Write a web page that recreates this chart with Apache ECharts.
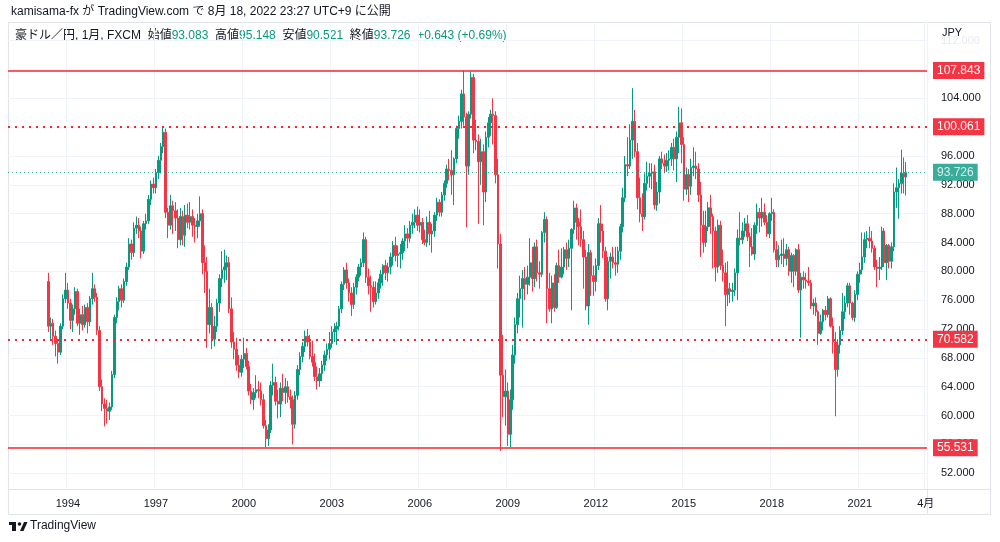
<!DOCTYPE html>
<html>
<head>
<meta charset="utf-8">
<title>豪ドル／円 1月 FXCM</title>
<script src="https://cdn.jsdelivr.net/npm/echarts@6/dist/echarts.min.js"></script>
<style>
  html, body { margin: 0; padding: 0; background: #fff; }
  #main { width: 1000px; height: 542px; }
</style>
</head>
<body>
<div id="main"></div>
<script>
// 月足 [始値, 高値, 安値, 終値]
const y1993 = [ // 5月から
  [78.6, 79.8, 71.6, 72.4], [72.4, 73.6, 70.6, 72.8], [72.8, 73.4, 69.8, 71.0], [71.0, 71.8, 68.2, 70.0],
  [70.0, 70.6, 67.2, 68.8], [68.8, 72.8, 68.4, 72.4], [72.4, 76.8, 72.0, 76.2], [76.2, 79.8, 75.6, 77.4]
];
const y1994 = [
  [77.4, 78.4, 74.8, 75.6], [75.6, 76.2, 72.0, 73.2], [73.2, 75.4, 71.6, 74.8], [74.8, 77.8, 74.0, 77.2],
  [77.2, 77.6, 72.4, 72.8], [72.8, 74.8, 71.2, 74.0], [74.0, 75.2, 71.8, 72.6], [72.6, 75.4, 72.2, 75.0],
  [75.0, 75.6, 71.4, 73.0], [73.0, 76.6, 72.4, 76.2], [76.2, 79.8, 75.4, 77.6], [77.6, 78.2, 75.8, 76.4]
];
const y1995 = [
  [76.4, 77.0, 71.2, 71.8], [71.8, 72.4, 63.4, 64.0], [64.0, 65.0, 60.6, 61.6], [61.6, 62.4, 58.5, 61.0],
  [61.0, 62.2, 58.9, 60.6], [60.6, 61.8, 59.4, 61.2], [61.2, 66.2, 60.8, 65.7], [65.7, 74.0, 65.2, 73.6],
  [73.6, 76.4, 72.8, 75.8], [75.8, 78.0, 74.6, 77.6], [77.6, 78.2, 75.0, 76.0], [76.0, 79.0, 75.6, 78.6]
];
const y1996 = [
  [78.6, 81.2, 78.0, 80.6], [80.6, 84.6, 80.2, 83.8], [83.8, 84.4, 81.6, 82.6], [82.6, 86.8, 82.0, 86.0],
  [86.0, 87.6, 85.2, 86.4], [86.4, 87.4, 84.6, 85.6], [85.6, 86.2, 81.8, 82.8], [82.8, 87.0, 82.4, 86.6],
  [86.6, 88.0, 85.8, 87.0], [87.0, 90.6, 86.6, 90.0], [90.0, 92.6, 89.2, 92.1], [92.1, 93.0, 90.8, 91.6]
];
const y1997 = [
  [91.6, 94.2, 90.8, 93.7], [93.7, 96.0, 92.8, 95.4], [95.4, 97.8, 93.6, 97.3], [97.3, 100.1, 96.4, 99.3],
  [99.3, 99.8, 87.4, 88.2], [88.2, 88.8, 84.6, 86.4], [86.4, 90.6, 85.8, 89.1], [89.1, 89.8, 85.2, 88.4],
  [88.4, 89.6, 85.6, 87.4], [87.4, 88.6, 83.2, 84.4], [84.4, 88.8, 83.6, 87.6], [87.6, 88.4, 83.6, 85.0]
];
const y1998 = [
  [85.0, 89.2, 83.4, 87.8], [87.8, 89.4, 86.0, 86.8], [86.8, 89.6, 85.8, 87.6], [87.6, 88.6, 84.8, 86.4],
  [86.4, 87.4, 84.0, 86.2], [86.2, 88.0, 84.6, 87.0], [87.0, 90.4, 86.2, 88.0], [88.0, 88.6, 79.6, 81.2],
  [81.2, 83.6, 77.0, 80.0], [80.0, 82.0, 69.4, 72.6], [72.6, 77.6, 71.4, 75.0], [75.0, 75.6, 69.2, 70.6]
];
const y1999 = [
  [70.6, 73.8, 69.6, 72.4], [72.4, 76.2, 71.6, 75.6], [75.6, 79.6, 74.4, 79.0], [79.0, 82.8, 77.8, 80.2],
  [80.2, 83.0, 78.4, 80.6], [80.6, 82.2, 78.8, 81.2], [81.2, 82.0, 74.2, 74.8], [74.8, 76.4, 69.4, 70.2],
  [70.2, 71.6, 67.8, 69.2], [69.2, 70.8, 66.2, 67.0], [67.0, 68.4, 65.2, 66.0], [66.0, 68.4, 65.4, 67.8]
];
const y2000 = [
  [67.8, 70.8, 66.6, 68.6], [68.6, 69.4, 66.4, 66.8], [66.8, 67.6, 62.8, 63.4], [63.4, 64.4, 61.6, 62.2],
  [62.2, 63.8, 60.8, 63.2], [63.2, 65.6, 62.4, 63.6], [63.6, 64.8, 62.4, 63.4], [63.4, 64.6, 61.4, 62.2],
  [62.2, 63.0, 58.2, 58.6], [58.6, 59.4, 55.6, 56.8], [56.8, 58.8, 55.8, 58.0], [58.0, 64.8, 57.6, 64.2]
];
const y2001 = [
  [64.2, 67.2, 62.8, 64.6], [64.6, 65.4, 61.4, 62.0], [62.0, 63.6, 59.6, 61.6], [61.6, 64.6, 59.8, 63.8],
  [63.8, 65.8, 62.0, 63.2], [63.2, 65.2, 61.6, 64.0], [64.0, 64.8, 61.8, 62.6], [62.6, 63.6, 61.0, 62.2],
  [62.2, 62.8, 56.0, 58.8], [58.8, 63.4, 58.2, 62.8], [62.8, 67.0, 62.2, 66.4], [66.4, 68.8, 65.6, 68.2]
];
const y2002 = [
  [68.2, 70.2, 67.4, 69.6], [69.6, 71.8, 68.8, 71.0], [71.0, 72.0, 69.6, 70.2], [70.2, 71.2, 67.8, 68.2],
  [68.2, 70.4, 66.8, 67.4], [67.4, 68.6, 64.8, 65.4], [65.4, 66.8, 63.6, 64.8], [64.8, 66.6, 64.0, 65.8],
  [65.8, 67.6, 64.8, 67.0], [67.0, 69.0, 66.2, 68.4], [68.4, 70.0, 67.6, 69.2], [69.2, 71.6, 67.8, 70.0]
];
const y2003 = [
  [70.0, 72.4, 69.4, 71.6], [71.6, 72.8, 70.2, 72.0], [72.0, 73.0, 69.8, 72.4], [72.4, 75.2, 71.8, 74.8],
  [74.8, 78.6, 74.2, 78.2], [78.2, 80.6, 77.4, 80.2], [80.2, 81.2, 77.6, 78.4], [78.4, 79.0, 75.8, 77.0],
  [77.0, 77.8, 73.8, 75.4], [75.4, 78.4, 74.8, 77.8], [77.8, 79.6, 76.8, 79.2], [79.2, 81.0, 78.6, 80.6]
];
const y2004 = [
  [80.6, 81.8, 79.4, 81.2], [81.2, 85.4, 80.6, 84.4], [84.4, 84.8, 78.4, 79.2], [79.2, 80.4, 76.8, 78.0],
  [78.0, 79.4, 74.4, 77.8], [77.8, 78.6, 75.0, 75.8], [75.8, 78.6, 75.4, 77.0], [77.0, 79.0, 76.2, 78.4],
  [78.4, 80.2, 77.6, 79.6], [79.6, 81.0, 78.0, 80.8], [80.8, 81.6, 78.8, 79.8], [79.8, 81.2, 78.6, 80.6]
];
const y2005 = [
  [80.6, 82.6, 79.6, 82.0], [82.0, 84.2, 80.8, 83.6], [83.6, 84.8, 81.4, 82.2], [82.2, 83.6, 80.6, 82.4],
  [82.4, 83.8, 80.4, 82.6], [82.6, 84.6, 81.6, 84.2], [84.2, 86.4, 82.8, 85.2], [85.2, 86.0, 83.2, 84.6],
  [84.6, 87.0, 84.0, 86.4], [86.4, 88.0, 85.2, 86.8], [86.8, 88.6, 86.0, 87.8], [87.8, 89.0, 85.6, 86.4]
];
const y2006 = [
  [86.4, 88.6, 85.4, 86.8], [86.8, 87.4, 83.8, 84.4], [84.4, 85.8, 83.6, 84.0], [84.0, 87.6, 83.4, 86.8],
  [86.8, 88.4, 83.6, 85.2], [85.2, 86.6, 82.6, 85.6], [85.6, 88.2, 84.8, 87.8], [87.8, 90.2, 87.0, 89.6],
  [89.6, 90.0, 87.6, 88.2], [88.2, 91.0, 87.6, 90.6], [90.6, 92.6, 89.8, 92.2], [92.2, 94.8, 91.6, 94.2]
];
const y2007 = [
  [94.2, 95.6, 92.6, 94.0], [94.0, 96.8, 90.6, 93.4], [93.4, 95.8, 89.2, 95.6], [95.6, 100.2, 95.0, 99.8],
  [99.8, 101.6, 98.4, 100.8], [100.8, 105.2, 99.8, 104.6], [104.6, 107.843, 100.2, 101.4], [101.4, 102.0, 86.1, 94.6],
  [94.6, 102.2, 93.4, 101.8], [101.8, 107.7, 101.2, 106.9], [106.9, 107.4, 96.4, 98.2], [98.2, 101.0, 96.8, 98.0]
];
const y2008 = [
  [98.0, 99.0, 86.6, 95.2], [95.2, 98.4, 92.0, 96.6], [96.6, 97.6, 86.4, 91.0], [91.0, 99.4, 89.6, 98.6],
  [98.6, 101.4, 97.2, 100.6], [100.6, 102.4, 98.8, 101.8], [101.8, 104.0, 97.6, 101.6], [101.6, 102.2, 92.2, 93.4],
  [93.4, 95.6, 80.4, 83.8], [83.8, 85.2, 55.1, 65.6], [65.6, 71.2, 59.8, 62.6], [62.6, 66.4, 58.6, 63.4]
];
const y2009 = [
  [63.4, 64.6, 55.8, 57.4], [57.4, 63.6, 55.6, 62.2], [62.2, 69.8, 60.8, 68.4], [68.4, 73.6, 67.2, 72.6],
  [72.6, 77.0, 71.4, 76.2], [76.2, 79.4, 73.6, 77.6], [77.6, 80.2, 72.2, 79.0], [79.0, 80.6, 76.0, 78.2],
  [78.2, 80.8, 76.8, 79.2], [79.2, 84.6, 78.0, 81.2], [81.2, 83.4, 77.2, 79.0], [79.0, 84.0, 77.8, 83.4]
];
const y2010 = [
  [83.4, 84.4, 78.6, 79.8], [79.8, 81.4, 77.6, 79.6], [79.6, 85.6, 79.2, 85.4], [85.4, 88.2, 84.0, 87.2],
  [87.2, 87.6, 72.8, 77.6], [77.6, 79.8, 74.4, 74.8], [74.8, 79.4, 72.8, 78.4], [78.4, 79.6, 74.4, 75.0],
  [75.0, 81.2, 74.8, 80.8], [80.8, 83.0, 78.4, 79.2], [79.2, 83.2, 79.0, 80.6], [80.6, 83.4, 79.6, 83.0]
];
const y2011 = [
  [83.0, 84.0, 80.2, 81.8], [81.8, 84.4, 80.6, 83.2], [83.2, 86.0, 74.6, 85.8], [85.8, 89.8, 85.2, 88.8],
  [88.8, 89.4, 84.4, 86.8], [86.8, 87.4, 83.6, 86.2], [86.2, 88.6, 83.4, 84.4], [84.4, 85.6, 77.6, 82.0],
  [82.0, 83.0, 74.6, 75.2], [75.2, 83.8, 72.6, 82.6], [82.6, 83.0, 76.6, 79.4], [79.4, 80.8, 76.6, 78.6]
];
const y2012 = [
  [78.6, 81.8, 77.2, 80.8], [80.8, 87.4, 80.2, 86.6], [86.6, 89.2, 84.0, 85.6], [85.6, 86.6, 81.8, 82.8],
  [82.8, 83.4, 75.8, 76.2], [76.2, 82.0, 74.6, 81.4], [81.4, 82.6, 79.0, 82.0], [82.0, 83.4, 80.4, 81.2],
  [81.2, 83.4, 79.4, 81.0], [81.0, 83.4, 79.8, 82.8], [82.8, 86.6, 81.6, 86.2], [86.2, 91.6, 85.4, 90.2]
];
const y2013 = [
  [90.2, 96.0, 89.6, 94.8], [94.8, 98.6, 93.2, 94.6], [94.6, 100.4, 94.2, 98.2], [98.2, 105.4, 95.6, 100.8],
  [100.8, 102.4, 95.8, 96.6], [96.6, 97.8, 88.6, 90.2], [90.2, 93.0, 86.8, 88.0], [88.0, 90.8, 85.6, 87.6],
  [87.6, 93.6, 87.2, 92.2], [92.2, 95.2, 91.2, 93.2], [93.2, 95.0, 91.6, 93.6], [93.6, 95.0, 91.4, 93.8]
];
const y2014 = [
  [93.8, 94.8, 88.6, 89.2], [89.2, 92.4, 88.4, 91.0], [91.0, 96.0, 89.4, 95.6], [95.6, 96.6, 94.2, 95.0],
  [95.0, 96.2, 93.6, 94.6], [94.6, 96.4, 93.8, 95.4], [95.4, 96.8, 94.0, 95.6], [95.6, 97.8, 94.6, 97.2],
  [97.2, 98.4, 94.0, 95.6], [95.6, 99.4, 92.4, 98.6], [98.6, 102.8, 96.4, 100.6], [100.6, 102.6, 95.0, 97.6]
];
const y2015 = [
  [97.6, 98.6, 89.8, 91.4], [91.4, 94.4, 90.6, 93.4], [93.4, 94.2, 89.6, 91.8], [91.8, 95.6, 90.6, 94.4],
  [94.4, 97.2, 93.2, 94.6], [94.6, 96.6, 92.8, 94.2], [94.2, 95.0, 89.6, 90.6], [90.6, 92.4, 82.0, 86.4],
  [86.4, 88.4, 82.6, 84.0], [84.0, 88.4, 83.4, 86.2], [86.2, 89.6, 85.6, 88.8], [88.8, 90.6, 85.2, 87.6]
];
const y2016 = [
  [87.6, 88.0, 80.4, 85.6], [85.6, 86.2, 78.6, 80.6], [80.6, 87.2, 79.8, 86.4], [86.4, 87.0, 80.2, 80.8],
  [80.8, 83.0, 78.6, 79.8], [79.8, 81.2, 72.4, 76.8], [76.8, 81.4, 75.2, 77.6], [77.6, 78.4, 75.6, 77.2],
  [77.2, 78.4, 75.8, 77.4], [77.4, 80.4, 76.6, 79.8], [79.8, 85.8, 76.0, 84.6], [84.6, 88.2, 83.6, 84.4]
];
const y2017 = [
  [84.4, 86.8, 83.8, 85.6], [85.6, 87.4, 84.8, 86.6], [86.6, 87.8, 84.2, 84.8], [84.8, 85.4, 80.6, 83.4],
  [83.4, 86.0, 82.2, 82.4], [82.4, 86.8, 81.6, 86.4], [86.4, 89.4, 85.2, 88.2], [88.2, 88.8, 85.4, 87.4],
  [87.4, 90.2, 86.2, 88.2], [88.2, 89.4, 86.4, 86.8], [86.8, 87.8, 84.8, 85.2], [85.2, 88.2, 84.6, 88.0]
];
const y2018 = [
  [88.0, 90.2, 87.0, 88.2], [88.2, 88.6, 82.6, 83.0], [83.0, 84.2, 80.6, 81.6], [81.6, 83.6, 80.6, 82.2],
  [82.2, 84.4, 81.0, 82.4], [82.4, 84.6, 80.6, 81.8], [81.8, 83.8, 80.8, 83.0], [83.0, 83.4, 79.4, 80.0],
  [80.0, 82.6, 78.4, 82.2], [82.2, 82.4, 77.8, 80.0], [80.0, 83.2, 79.4, 83.0], [83.0, 83.8, 77.0, 77.4]
];
const y2019 = [
  [77.4, 79.8, 70.8, 79.2], [79.2, 80.0, 77.6, 78.8], [78.8, 79.8, 77.6, 78.6], [78.6, 80.6, 78.0, 78.4],
  [78.4, 78.8, 74.8, 75.2], [75.2, 76.2, 74.0, 75.6], [75.6, 76.4, 73.8, 74.4], [74.4, 74.6, 69.8, 71.4],
  [71.4, 74.0, 71.2, 73.0], [73.0, 74.8, 71.8, 74.6], [74.6, 75.2, 73.2, 74.0], [74.0, 76.6, 73.6, 76.2]
];
const y2020 = [
  [76.2, 76.4, 72.2, 72.4], [72.4, 73.6, 68.6, 70.2], [70.2, 71.6, 59.9, 66.4], [66.4, 70.6, 65.4, 69.8],
  [69.8, 72.4, 68.6, 71.8], [71.8, 77.0, 71.2, 74.4], [74.4, 76.6, 73.4, 75.6], [75.6, 78.4, 75.0, 78.0],
  [78.0, 78.4, 74.0, 75.6], [75.6, 75.8, 73.2, 73.6], [73.6, 77.4, 73.0, 76.8], [76.8, 80.0, 76.0, 79.6]
];
const y2021 = [
  [79.6, 81.2, 78.4, 80.2], [80.2, 85.4, 79.6, 82.0], [82.0, 85.4, 81.2, 84.4], [84.4, 85.6, 83.2, 84.6],
  [84.6, 86.2, 83.2, 84.2], [84.2, 85.6, 82.6, 83.2], [83.2, 83.6, 80.2, 80.6], [80.6, 81.6, 77.8, 80.4],
  [80.4, 82.0, 78.8, 80.6], [80.6, 86.2, 80.2, 85.6], [85.6, 86.0, 80.6, 81.2], [81.2, 83.8, 78.8, 83.6]
];
const y2022 = [ // 8月まで
  [83.6, 83.8, 80.4, 81.4], [81.4, 84.0, 80.4, 83.4], [83.4, 92.2, 82.8, 91.0], [91.0, 94.4, 88.8, 91.6],
  [91.6, 92.8, 87.3, 92.2], [92.2, 96.88, 90.8, 93.6], [93.6, 95.8, 90.8, 93.083], [93.083, 95.148, 90.521, 93.726]
];

const yearTicks = ['1994', '1997', '2000', '2003', '2006', '2009', '2012', '2015', '2018', '2021'];
const priceTicks = [52, 56, 60, 64, 68, 72, 76, 80, 84, 88, 92, 96, 100, 104, 108, 112];
const solidLevels = [107.843, 55.531];
const dottedLevels = [100.061, 70.582];
const lastPrice = 93.726;

const upColor = '#089981';
const downColor = '#f23645';
const lineRed = '#f7252f';
const textColor = '#131722';
const gridColor = '#f0f3fa';

// 1992年1月〜2023年4月 の月カテゴリ
const categories = [];
for (let y = 1992; y <= 2023; y++) {
  for (let m = 1; m <= 12; m++) {
    if (y === 2023 && m > 4) break;
    categories.push(y + '-' + String(m).padStart(2, '0'));
  }
}
const lastCat = categories[categories.length - 1];

const candles = [].concat(y1993, y1994, y1995, y1996, y1997, y1998, y1999, y2000, y2001, y2002,
  y2003, y2004, y2005, y2006, y2007, y2008, y2009, y2010, y2011, y2012, y2013, y2014, y2015,
  y2016, y2017, y2018, y2019, y2020, y2021, y2022);
const start = categories.indexOf('1993-05');
const seriesData = categories.map((c, i) => {
  const k = i - start;
  if (k < 0 || k >= candles.length) return '-';
  const d = candles[k];
  return [d[0], d[3], d[2], d[1]]; // open, close, low, high
});

const labelled = new Set(yearTicks.map(y => y + '-01').concat([lastCat]));
const showTick = (idx, val) => labelled.has(val);

const font = "'Liberation Sans', 'Noto Sans CJK JP', sans-serif";

function levelLine(v, color, type, bg) {
  return {
    yAxis: v,
    lineStyle: { color: color, type: type, width: type === 'solid' ? 1.5 : 2 },
    label: {
      show: true, position: 'end', distance: 6,
      formatter: () => v.toFixed(3),
      color: '#fff', backgroundColor: bg, padding: [3, 4, 2, 4],
      fontSize: 12, fontFamily: font
    }
  };
}

const markLines = []
  .concat(solidLevels.map(v => levelLine(v, lineRed, 'solid', downColor)))
  .concat(dottedLevels.map(v => levelLine(v, lineRed, [2, 5], downColor)));
const lastLine = levelLine(lastPrice, upColor, [1, 3], upColor);
lastLine.lineStyle.width = 1;
lastLine.lineStyle.opacity = 0.8;
markLines.push(lastLine);

let myChart = echarts.init(document.getElementById('main'), null, { renderer: 'canvas' });

let option = {
  animation: false,
  backgroundColor: '#fff',
  grid: { left: 8, right: 73, top: 22, bottom: 53 },
  xAxis: {
    type: 'category',
    data: categories,
    boundaryGap: true,
    axisLine: { show: false },
    axisTick: { show: false },
    axisLabel: {
      interval: showTick,
      formatter: (val) => val === lastCat ? '4月' : val.slice(0, 4),
      color: textColor, fontSize: 11, fontFamily: font, margin: 9
    },
    splitLine: { show: true, interval: showTick, lineStyle: { color: gridColor, width: 1 } }
  },
  yAxis: {
    type: 'value',
    position: 'right',
    min: 49.82,
    max: 114.58,
    axisLine: { show: false },
    axisTick: { show: false, customValues: priceTicks },
    axisLabel: {
      customValues: priceTicks,
      formatter: (v) => v === 112 ? '{f|' + v.toFixed(3) + '}' : v.toFixed(3),
      rich: { f: { color: '#e8eaef', fontSize: 11, fontFamily: font } },
      color: textColor, fontSize: 11, fontFamily: font, margin: 14
    },
    splitLine: { show: true, lineStyle: { color: gridColor, width: 1 } }
  },
  series: [{
    type: 'candlestick',
    data: seriesData,
    barWidth: '82%',
    itemStyle: {
      color: upColor, color0: downColor,
      borderColor: upColor, borderColor0: downColor,
      borderWidth: 1
    },
    markLine: {
      silent: true,
      symbol: ['none', 'none'],
      animation: false,
      data: markLines
    }
  }],
  graphic: [
    // 枠線
    { type: 'rect', silent: true, shape: { x: 8.5, y: 22.5, width: 982, height: 492 },
      style: { fill: 'none', stroke: '#e0e3eb', lineWidth: 1 } },
    { type: 'line', silent: true, shape: { x1: 927.5, y1: 22, x2: 927.5, y2: 515 },
      style: { stroke: '#e0e3eb', lineWidth: 1 } },
    { type: 'line', silent: true, shape: { x1: 8, y1: 489.5, x2: 991, y2: 489.5 },
      style: { stroke: '#e0e3eb', lineWidth: 1 } },
    // ヘッダー
    { type: 'text', left: 11, top: 6, silent: true,
      style: { text: 'kamisama-fx が TradingView.com で 8月 18, 2022 23:27 UTC+9 に公開',
        fill: textColor, font: '12px ' + font } },
    { type: 'text', left: 15, top: 30, silent: true,
      style: {
        text: '{n|豪ドル／円, 1月, FXCM}  {n|始値}{v|93.083}  {n|高値}{v|95.148}  {n|安値}{v|90.521}  {n|終値}{v|93.726}  {v|+0.643 (+0.69%)}',
        rich: {
          n: { fill: textColor, fontSize: 12, fontFamily: font },
          v: { fill: upColor, fontSize: 12, fontFamily: font }
        }
      } },
    { type: 'text', left: 942, top: 27, silent: true,
      style: { text: 'JPY', fill: textColor, font: '11px ' + font } },
    // ロゴ
    { type: 'rect', silent: true, shape: { x: 9, y: 522, width: 7, height: 3 }, style: { fill: textColor } },
    { type: 'rect', silent: true, shape: { x: 12, y: 522, width: 4, height: 9 }, style: { fill: textColor } },
    { type: 'circle', silent: true, shape: { cx: 19.5, cy: 524, r: 1.8 }, style: { fill: textColor } },
    { type: 'polygon', silent: true, shape: { points: [[20, 531], [24, 522], [27.5, 522], [23.5, 531]] },
      style: { fill: textColor } },
    { type: 'text', left: 30, top: 520, silent: true,
      style: { text: 'TradingView', fill: textColor, font: '12px ' + font } }
  ]
};

myChart.setOption(option);
</script>
</body>
</html>
